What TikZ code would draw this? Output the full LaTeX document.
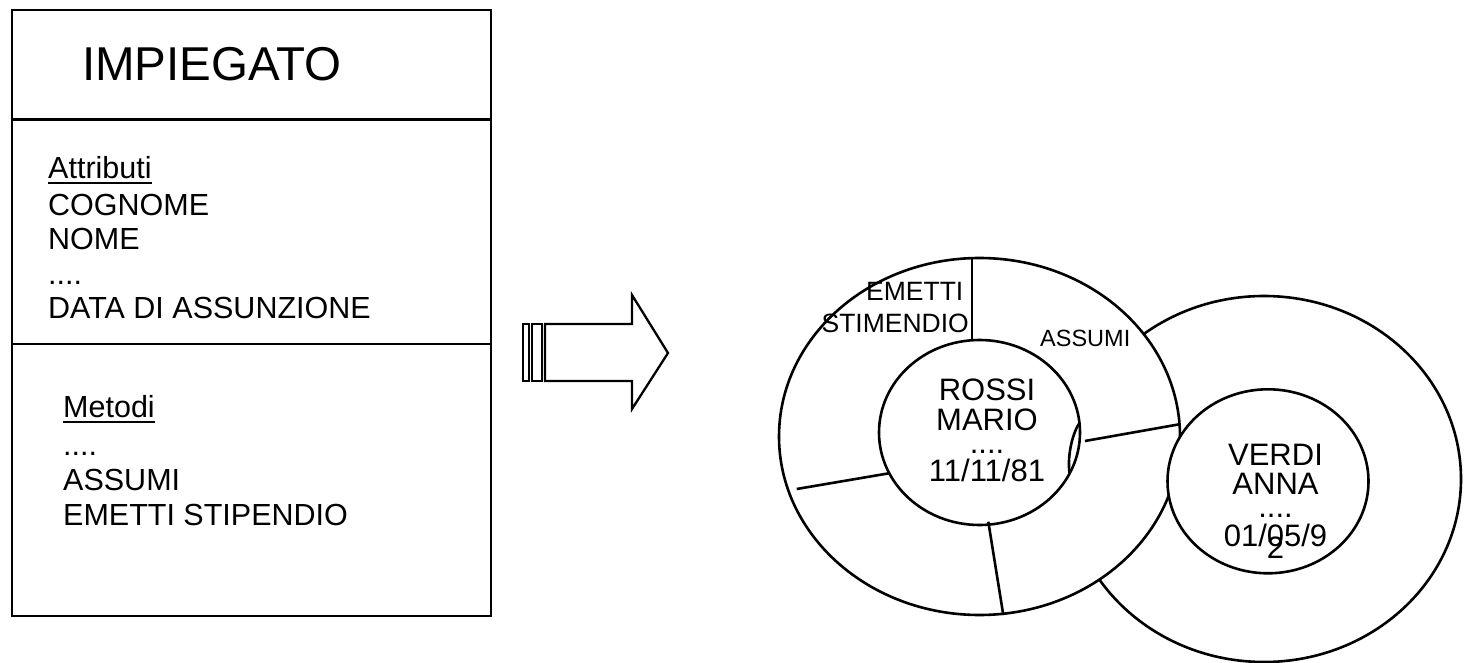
\documentclass[tikz,border=0pt]{standalone}
\usepackage{fontspec}
\setmainfont{Liberation Sans}
\begin{document}
\begin{tikzpicture}[x=1pt,y=-1pt,
  outline/.style={draw=black,line width=2.8pt},
  ring/.style={draw=black,line width=2.6pt,fill=white},
  spoke/.style={draw=black,line width=2.6pt},
  arrowpart/.style={draw=black,line width=2.3pt,fill=white,line join=miter},
  lbl/.style={inner sep=0pt,anchor=base west,font=\fontsize{30.5}{36}\selectfont},
  title/.style={inner sep=0pt,anchor=base west,font=\fontsize{47.5}{54}\selectfont},
  objtxt/.style={inner sep=0pt,anchor=base,font=\fontsize{31}{36}\selectfont},
  methtxt/.style={inner sep=0pt,font=\fontsize{26.5}{30}\selectfont},
  uline/.style={line width=1.8pt}]
\useasboundingbox (0,0) rectangle (1468,663);

% class box
\draw[outline] (12,10) rectangle (491,616);
\draw[outline] (12,119.5) -- (491,119.5);
\draw[outline] (12,344) -- (491,344);

\node[title] (cls) at (82,80.7) {IMPIEGATO};

\node[lbl] (attr) at (48,178.3) {Attributi};
\draw[uline] ([yshift=-4.4pt]attr.base west) -- ([yshift=-4.4pt]attr.base east);
\node[lbl] (a1) at (48,216) {COGNOME};
\node[lbl] (a2) at (48,250) {NOME};
\node[lbl] (a3) at (48,285) {....};
\node[lbl] (a4) at (48,318.3) {DATA DI ASSUNZIONE};

\node[lbl] (meth) at (63,417.3) {Metodi};
\draw[uline] ([yshift=-5pt]meth.base west) -- ([yshift=-5pt]meth.base east);
\node[lbl] (m1) at (63,455) {....};
\node[lbl] (m2) at (63,490) {ASSUMI};
\node[lbl] (m3) at (63,525) {EMETTI STIPENDIO};

% instantiation arrow
\draw[arrowpart] (523,324) rectangle (529,381);
\draw[arrowpart] (532,324) rectangle (542,381);
\draw[arrowpart] (545,324) -- (632,324) -- (632,295) -- (668,353)
  -- (632,409) -- (632,381) -- (545,381) -- cycle;

% second object (behind)
\draw[ring] (1264,479) ellipse [x radius=197, y radius=183];

% first object
\draw[ring] (979.5,436.5) ellipse [x radius=200.5, y radius=178.5];
\draw[ring] (979.5,432.5) ellipse [x radius=100.5, y radius=92.5];
\draw[spoke] (972,258.1) -- (972,340.3);
\draw[spoke] (1085,441) -- (1179.3,424.3);
\draw[spoke] (796.7,489) -- (889,473.3);
\draw[spoke] (988.3,521.7) -- (1003.3,615);
\draw[spoke] (1079.5,423) .. controls (1073,432) and (1067,455) .. (1069.5,473);

\node[methtxt,anchor=base east] (e1) at (963.5,300.7) {EMETTI};
\node[methtxt,anchor=base east] (e2) at (969,332.7) {STIMENDIO};
\node[inner sep=0pt,anchor=base west,font=\fontsize{23.5}{28}\selectfont] (as) at (1040,346) {ASSUMI};

\node[objtxt] (r1) at (987,400.7) {ROSSI};
\node[objtxt] (r2) at (987,430) {MARIO};
\node[objtxt] (r3) at (987,453.3) {....};
\node[objtxt] (r4) at (987,481.7) {11/11/81};

% second object core
\draw[ring] (1268,481.3) ellipse [x radius=100.5, y radius=92];
\node[objtxt] (v1) at (1275.5,465.7) {VERDI};
\node[objtxt] (v2) at (1275.5,494) {ANNA};
\node[objtxt] (v3) at (1275.5,517.3) {....};
\node[objtxt] (v4) at (1275.5,546.7) {01/05/9};
\node[objtxt] (v5) at (1275.5,558.3) {2};
\end{tikzpicture}
\end{document}
